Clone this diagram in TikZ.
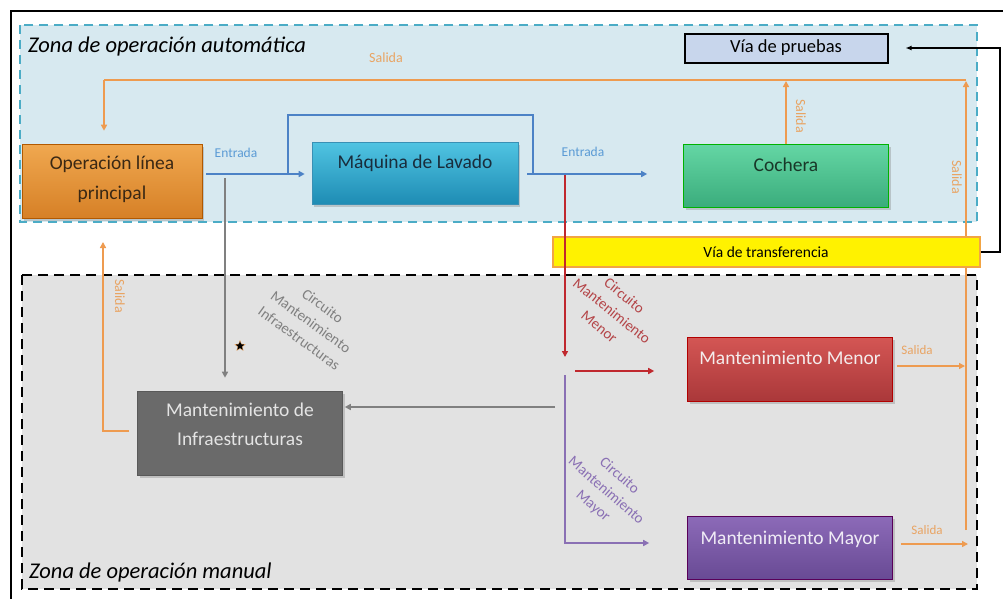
\documentclass[tikz,border=0pt]{standalone}
\usepackage{fontspec}
\setmainfont{Carlito}
\usetikzlibrary{arrows.meta,shadows,shapes.geometric}
\definecolor{zoneAfill}{HTML}{D7E9F0}
\definecolor{zoneAline}{HTML}{4BACC6}
\definecolor{zoneMfill}{HTML}{E2E2E2}
\definecolor{salcol}{HTML}{EE9B50}
\definecolor{saltxt}{HTML}{E9A463}
\definecolor{blucol}{HTML}{4C82C6}
\definecolor{blutxt}{HTML}{5B9BD5}
\definecolor{grycol}{HTML}{808080}
\definecolor{redcol}{HTML}{C0282E}
\definecolor{redtxt}{HTML}{B44548}
\definecolor{purcol}{HTML}{8A70B4}
\begin{document}
\begin{tikzpicture}[x=1pt,y=-1pt,
  box/.style={rectangle, draw=#1!70!black, line width=0.6pt, minimum width=205pt, minimum height=63pt,
    font=\fontsize{19.5}{30}\selectfont, align=center,
    drop shadow={shadow xshift=2pt, shadow yshift=-2.5pt, opacity=0.35}},
  arr/.style={line width=1.6pt, -{Triangle[length=6pt,width=6pt]}},
  sal/.style={arr, draw=salcol},
  lbl/.style={font=\fontsize{14}{16}\selectfont, inner sep=1pt},
  circ/.style={font=\fontsize{15}{20}\selectfont, align=center, inner sep=0pt},
]
\useasboundingbox (0,0) rectangle (1003,598);
\clip (0,0) rectangle (1003,598);
\fill[white] (0,0) rectangle (1003,598);
% outer frame
\draw[line width=2pt] (11,11) rectangle (1012,612);
% zones
\draw[fill=zoneAfill, draw=zoneAline, line width=2.6pt, dash pattern=on 9pt off 6pt] (20,25) rectangle (977,222);
\draw[fill=zoneMfill, draw=black, line width=2.6pt, dash pattern=on 10pt off 6pt] (22,275) rectangle (977,589);
\node[anchor=west, font=\fontsize{22.5}{26}\selectfont\itshape, inner sep=0pt] (tauto) at (28,46) {Zona de operación automática};
\node[anchor=west, font=\fontsize{22.5}{26}\selectfont\itshape, inner sep=0pt] (tman) at (29,572) {Zona de operación manual};

% boxes
\node[box=orange, minimum width=180pt, minimum height=74pt, top color={rgb,255:red,240;green,168;blue,80}, bottom color={rgb,255:red,214;green,128;blue,38}, text={rgb,255:red,58;green,40;blue,20}, text depth=6pt] (op) at (112,181) {Operación línea\\principal};
\node[box=cyan, minimum width=206pt, minimum height=62pt, top color={rgb,255:red,80;green,196;blue,226}, bottom color={rgb,255:red,30;green,140;blue,180}, text={rgb,255:red,25;green,45;blue,60}, text depth=22pt] (lav) at (415,173) {Máquina de Lavado};
\node[box=green, minimum height=63pt, top color={rgb,255:red,100;green,214;blue,164}, bottom color={rgb,255:red,58;green,172;blue,124}, text={rgb,255:red,25;green,55;blue,40}, text depth=22pt] (coch) at (786,176) {Cochera};
\node[rectangle, draw=black, line width=2pt, fill={rgb,255:red,200;green,214;blue,236}, minimum width=203pt, minimum height=29pt, font=\fontsize{18.5}{20}\selectfont, inner sep=0pt] (prueb) at (786,48) {Vía de pruebas};

% orange Salida connectors (under transfer bar)
\coordinate (tl) at (104,80);
\coordinate (rb) at (966,530);
\draw[line width=1.6pt, salcol] (rb |- tl) -- (tl);
\draw[sal, shorten >=13pt] (tl) -- (tl |- op.north);
\draw[sal, shorten >=1pt] (coch.north) -- (coch.north |- tl);
\draw[sal, shorten >=1pt] (rb) -- (rb |- tl);
\node[lbl, text=saltxt] (s1) at (386,58) {Salida};
\node[lbl, text=saltxt, rotate=-90] (s2) at (801,116) {Salida};
\node[lbl, text=saltxt, rotate=-90] (s3) at (957,177) {Salida};

% blue connectors
\coordinate (j1) at (288,174);
\coordinate (j2) at (533,115);
\coordinate (j3) at (533,174);
\draw[arr, blucol, shorten <=4pt, shorten >=7pt] (op.east |- j1) -- (lav.west |- j1);
\draw[line width=1.6pt, blucol] (j1) |- (j2) -- (j3);
\draw[arr, blucol, shorten <=9pt, shorten >=36pt] (lav.east |- j3) -- (coch.west |- j3);
\node[lbl, text=blutxt, font=\fontsize{13.5}{16}\selectfont] (e1) at (236,153) {Entrada};
\node[lbl, text=blutxt, font=\fontsize{13.5}{16}\selectfont] (e2) at (583,152) {Entrada};

% transfer bar
\node[rectangle, draw={rgb,255:red,242;green,164;blue,68}, line width=2pt, fill=yellow, minimum width=427pt, minimum height=30pt, font=\fontsize{15.5}{18}\selectfont] (trans) at (766,252) {Vía de transferencia};

% lower boxes
\node[box=gray, minimum height=84pt, fill={rgb,255:red,106;green,106;blue,106}, text={rgb,255:red,228;green,228;blue,228}, font=\fontsize{19.5}{29}\selectfont, text depth=17pt] (infra) at (240,433) {Mantenimiento de\\Infraestructuras};
\node[box=red, minimum height=64pt, top color={rgb,255:red,212;green,86;blue,84}, bottom color={rgb,255:red,170;green,56;blue,58}, text={rgb,255:red,244;green,236;blue,236}, text depth=22pt] (menor) at (790,369) {Mantenimiento Menor};
\node[box=violet, minimum height=63pt, top color={rgb,255:red,140;green,106;blue,184}, bottom color={rgb,255:red,104;green,74;blue,148}, text={rgb,255:red,240;green,236;blue,246}, text depth=20pt] (mayor) at (790,548) {Mantenimiento Mayor};

% grey connectors
\coordinate (g1) at (225,178);
\coordinate (g2) at (555,407);
\draw[arr, grycol, shorten >=13pt] (g1) -- (g1 |- infra.north);
\draw[arr, grycol, shorten >=2pt] (g2) -- (g2 -| infra.east);
\node[star, star points=5, star point ratio=2.3, fill=black, draw=orange!60, line width=0.3pt, minimum size=11pt, inner sep=0pt] (star) at (240,346) {};
\node[circ, text=grycol, rotate=-36] (c1) at (311,322) {Circuito\\Mantenimiento\\Infraestructuras};

% red connectors
\coordinate (r1) at (565,175);
\coordinate (r2) at (565,357);
\coordinate (r3) at (575,371);
\draw[arr, redcol] (r1) -- (r2);
\draw[arr, redcol, shorten >=33pt] (r3) -- (r3 -| menor.west);
\node[circ, text=redtxt, rotate=-39] (c2) at (612,311) {Circuito\\Mantenimiento\\Menor};

% purple connectors
\coordinate (p1) at (565,375);
\coordinate (p2) at (565,543);
\draw[arr, purcol, shorten >=38pt] (p1) -- (p2) -- (p2 -| mayor.west);
\node[circ, text=purcol, rotate=-41] (c3) at (606,491) {Circuito\\Mantenimiento\\Mayor};

% lower Salida connectors
\draw[sal, shorten <=4pt, shorten >=1pt] (menor.east |- 0,366) coordinate (m1) -- (m1 -| rb);
\draw[sal, shorten <=8pt, shorten >=-2pt] (mayor.east |- 0,544) coordinate (m2) -- (m2 -| rb);
\node[lbl, text=saltxt, font=\fontsize{13}{15}\selectfont] (s4) at (917,350) {Salida};
\node[lbl, text=saltxt, font=\fontsize{13}{15}\selectfont] (s5) at (927,530) {Salida};
\coordinate (o1) at (103,242);
\draw[sal, shorten <=8pt] (infra.west |- 0,431) coordinate (i1) -| (o1);
\node[lbl, text=saltxt, rotate=-90] (s6) at (120,296) {Salida};

% black link
\coordinate (xr) at (1000,0);
\draw[line width=1.6pt, -{Latex[length=6pt,width=5pt]}, shorten >=17pt] (trans.east) -- (trans.east -| xr) |- (prueb.east);
\end{tikzpicture}
\end{document}
